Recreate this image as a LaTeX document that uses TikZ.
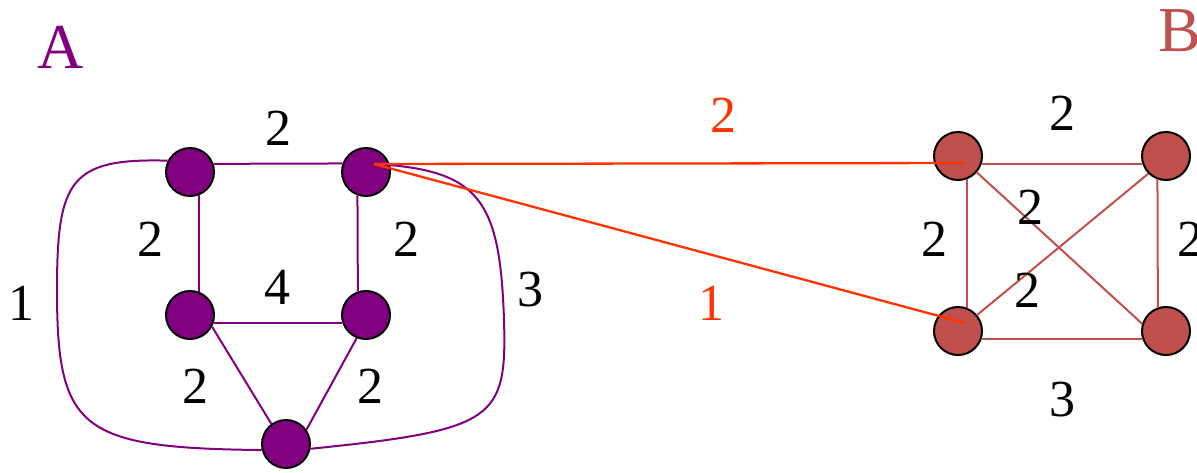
\documentclass[tikz,border=0pt]{standalone}
\usepackage{fontspec}
\setmainfont{Liberation Serif}
\definecolor{apurple}{RGB}{128,0,128}
\definecolor{bred}{RGB}{192,80,77}
\definecolor{lred}{RGB}{255,51,0}
\begin{document}
\begin{tikzpicture}[x=1pt,y=-1pt,
  anode/.style={circle,draw=black,line width=2pt,fill=apurple,minimum size=48pt,inner sep=0pt},
  bnode/.style={circle,draw=black,line width=2pt,fill=bred,minimum size=48pt,inner sep=0pt},
  aedge/.style={draw=apurple,line width=2pt},
  bedge/.style={draw=bred,line width=2pt},
  redge/.style={draw=lred,line width=2.3pt},
  lab/.style={inner sep=0pt,font=\rmfamily\fontsize{52}{52}\selectfont},
  big/.style={inner sep=0pt,font=\rmfamily\fontsize{64}{64}\selectfont}]
\useasboundingbox (0,0) rectangle (1197,472);
\clip (0,0) rectangle (1197,472);
% A nodes
\node[anode] (atl) at (190,172) {};
\node[anode] (atr) at (366,172) {};
\node[anode] (aml) at (190,315) {};
\node[anode] (amr) at (366,315) {};
\node[anode] (abt) at (286,444) {};
% B nodes
\node[bnode] (btl) at (958,156) {};
\node[bnode] (btr) at (1166,156) {};
\node[bnode] (bbl) at (958,331) {};
\node[bnode] (bbr) at (1166,331) {};
% A edges
\draw[aedge] (atl.19.5) -- (atr.160.5);
\draw[aedge] (atl.-70.5) -- (aml.70.5);
\draw[aedge] (atr.250.5) -- (amr.109.5);
\draw[aedge] (aml.-19.5) -- (amr.199.5);
\draw[aedge] (aml.-28.6) -- (abt.126.9);
\draw[aedge] (amr.248.6) -- (abt.35);
\draw[aedge] (atl.153.4) .. controls (70,158) and (57,180) .. (57,290)
  .. controls (57,430) and (80,448) .. (abt.194.6);
\draw[aedge] ([shift={(9,-8)}]atr.center) .. controls (480,170) and (500,200) .. (504,320)
  .. controls (507,420) and (495,430) .. (abt.-11.8);
% B edges
\draw[bedge] (btl.-19.5) -- (btr.199.5);
\draw[bedge] (btl.-70.5) -- (bbl.70.5);
\draw[bedge] (btr.250.5) -- (bbr.109.5);
\draw[bedge] (bbl.-19.5) -- (bbr.199.5);
\draw[bedge] (btl.-41.6) -- (bbr.163);
\draw[bedge] (bbl.40) -- (btr.225);
% red edges
\draw[redge] ([shift={(8,-8)}]atr.center) -- ([shift={(7,7)}]btl.center);
\draw[redge] ([shift={(8,-8)}]atr.center) -- ([shift={(7,-8)}]bbl.center);
% labels
\node[big,text=apurple] (la) at (61,47) {A};
\node[big,text=bred] (lb) at (1180,31) {B};
\node[lab] (l1) at (278,128) {2};
\node[lab] (l2) at (150,239) {2};
\node[lab] (l3) at (406,239) {2};
\node[lab] (l4) at (277,287) {4};
\node[lab] (l5) at (22,303) {1};
\node[lab] (l6) at (195,386) {2};
\node[lab] (l7) at (370,386) {2};
\node[lab] (l8) at (530,290) {3};
\node[lab,text=lred] (l9) at (723,115) {2};
\node[lab,text=lred] (l10) at (711,303) {1};
\node[lab] (l11) at (1062,113) {2};
\node[lab] (l12) at (934,239) {2};
\node[lab] (l13) at (1190,239) {2};
\node[lab] (l14) at (1030,207) {2};
\node[lab] (l15) at (1027,290) {2};
\node[lab] (l16) at (1062,400) {3};
\end{tikzpicture}
\end{document}
